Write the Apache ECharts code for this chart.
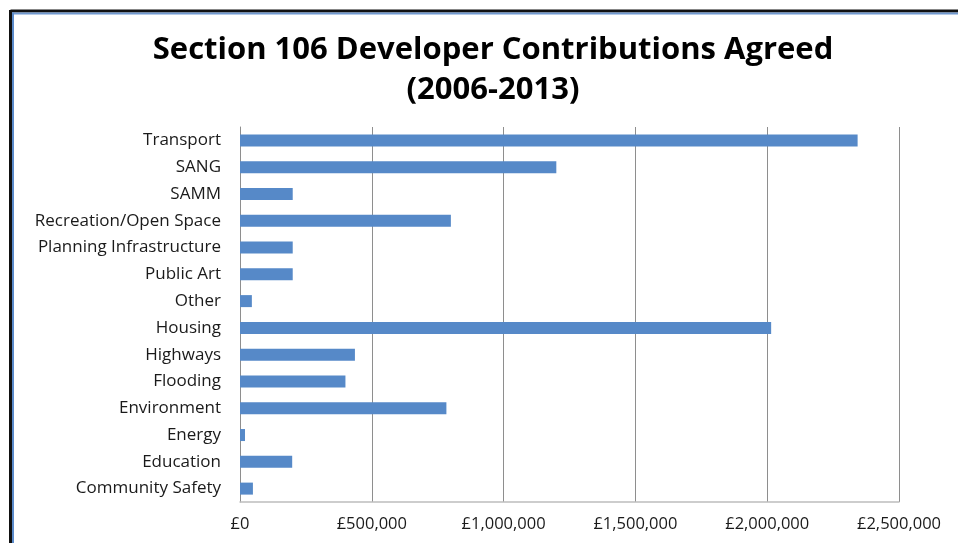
<!DOCTYPE html>
<html>
<head>
<meta charset="utf-8">
<script src="https://cdn.jsdelivr.net/npm/echarts@6/dist/echarts.min.js"></script>
<style>
  html, body { margin: 0; padding: 0; background: #ffffff; }
  #chart { width: 958px; height: 543px; }
</style>
</head>
<body>
<div id="chart"></div>
<script>
// Contribution categories, listed bottom-to-top as drawn on the axis
const categories = [
  'Community Safety', 'Education', 'Energy', 'Environment', 'Flooding',
  'Highways', 'Housing', 'Other', 'Public Art', 'Planning Infrastructure',
  'Recreation/Open Space', 'SAMM', 'SANG', 'Transport'
];
// Amounts agreed (£)
const amounts = [
  49000, 198000, 19000, 783000, 400000,
  436000, 2015000, 45000, 200000, 200000,
  800000, 200000, 1200000, 2343000
];
// Value axis ticks
const axisMin = 0;
const axisMax = 2500000;
const axisStep = 500000;

const titleLines = ['Section 106 Developer Contributions Agreed', '(2006-2013)'];

function pounds(v) {
  return '£' + Math.round(v).toString().replace(/\B(?=(\d{3})+(?!\d))/g, ',');
}

const chart = echarts.init(document.getElementById('chart'), null, { renderer: 'canvas' });
const labelFont = '"Open Sans", Lato, sans-serif';

chart.setOption({
  backgroundColor: '#ffffff',
  animation: false,
  title: {
    text: titleLines.join('\n'),
    left: 488,
    textAlign: 'center',
    top: 25,
    textStyle: {
      fontFamily: labelFont,
      fontWeight: 'bold',
      fontSize: 31,
      lineHeight: 40,
      color: '#000000'
    }
  },
  graphic: [
    // window frame along the top and left edges
    { type: 'line', shape: { x1: 10.5, y1: 11, x2: 958, y2: 11 }, style: { stroke: '#111111', lineWidth: 3 } },
    { type: 'line', shape: { x1: 12, y1: 13.5, x2: 958, y2: 13.5 }, style: { stroke: '#6f98cf', lineWidth: 2 } },
    { type: 'line', shape: { x1: 10.5, y1: 10, x2: 10.5, y2: 543 }, style: { stroke: '#111111', lineWidth: 3 } },
    { type: 'line', shape: { x1: 13, y1: 12.5, x2: 13, y2: 543 }, style: { stroke: '#5b8bcb', lineWidth: 2 } }
  ],
  grid: {
    left: 240,
    right: 59,
    top: 127,
    bottom: 41,
    containLabel: false
  },
  xAxis: {
    type: 'value',
    min: axisMin,
    max: axisMax,
    interval: axisStep,
    axisLine: { show: true, lineStyle: { color: '#bdbdbd', width: 1.5 } },
    axisTick: { show: false },
    splitLine: { show: true, lineStyle: { color: '#8e8e8e', width: 1 } },
    axisLabel: {
      formatter: pounds,
      margin: 14,
      fontFamily: labelFont,
      fontSize: 16.5,
      color: '#1a1a1a'
    }
  },
  yAxis: {
    type: 'category',
    data: categories,
    axisLine: { show: true, lineStyle: { color: '#8e8e8e', width: 1 } },
    axisTick: { show: false },
    axisLabel: {
      margin: 19,
      fontFamily: labelFont,
      fontSize: 17,
      color: '#1a1a1a'
    }
  },
  series: [{
    type: 'bar',
    data: amounts,
    barWidth: 12,
    itemStyle: { color: '#5689c8' }
  }]
});
</script>
</body>
</html>
